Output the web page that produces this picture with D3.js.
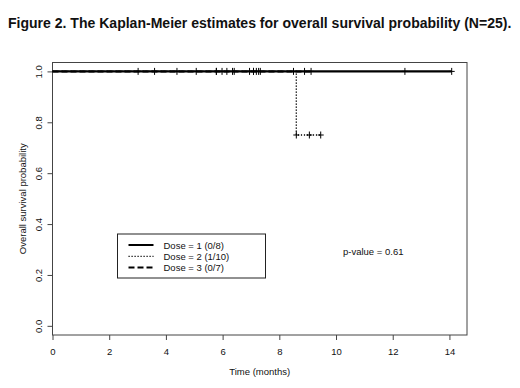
<!DOCTYPE html>
<html>
<head>
<meta charset="utf-8">
<script src="https://cdn.jsdelivr.net/npm/d3@7"></script>
<style>
  body { margin: 0; background: #fff; }
  text { font-family: Arial, "Liberation Sans", sans-serif; fill: #111; }
</style>
</head>
<body>
<div id="km-chart"></div>
<script>
// Follow-up times (months) and status (1 = death, 0 = censored), per dose group
const dose1Time   = [3.02, 4.39, 5.78, 6.41, 7.09, 8.89, 12.43, 14.08];
const dose1Status = [0, 0, 0, 0, 0, 0, 0, 0];
const dose2Time   = [3.60, 5.07, 5.98, 6.95, 7.33, 8.50, 8.60, 8.60, 9.06, 9.46];
const dose2Status = [0, 0, 0, 0, 0, 0, 1, 0, 0, 0];
const dose3Time   = [5.78, 6.15, 6.35, 7.09, 7.19, 7.27, 9.12];
const dose3Status = [0, 0, 0, 0, 0, 0, 0];

const legendLabels = ["Dose = 1 (0/8)", "Dose = 2 (1/10)", "Dose = 3 (0/7)"];
const xTicks = [0, 2, 4, 6, 8, 10, 12, 14];
const yTicks = [0, 0.2, 0.4, 0.6, 0.8, 1.0];
const pValueText = "p-value = 0.61";
const titleText = "Figure 2. The Kaplan-Meier estimates for overall survival probability (N=25).";

// Kaplan-Meier product-limit estimate: step points + censor marks
function kaplanMeier(times, status) {
    const rows = times.map((t, i) => ({t: t, d: status[i]})).sort((a, b) => a.t - b.t);
    const uniq = Array.from(new Set(rows.map(r => r.t)));
    let atRisk = rows.length, s = 1;
    const steps = [{t: 0, s: 1}], marks = [];
    uniq.forEach(t => {
        const here = rows.filter(r => r.t === t);
        const deaths = here.filter(r => r.d === 1).length;
        if (deaths > 0) { s *= (1 - deaths / atRisk); steps.push({t: t, s: s}); }
        here.filter(r => r.d === 0).forEach(() => marks.push({t: t, s: s}));
        atRisk -= here.length;
    });
    steps.push({t: uniq[uniq.length - 1], s: s});
    return {steps, marks};
}

const groups = [
    {km: kaplanMeier(dose3Time, dose3Status), dash: "6,3", width: 2},
    {km: kaplanMeier(dose2Time, dose2Status), dash: "1.2,1.8", width: 1.4},
    {km: kaplanMeier(dose1Time, dose1Status), dash: null, width: 2.4}
];
const legendStyles = [
    {dash: null, width: 2},
    {dash: "1.2,1.8", width: 1.2},
    {dash: "6,3", width: 2}
];

const W = 520, H = 388;
const margin = {top: 62.5, right: 53, bottom: 53, left: 52.5},
      width = W - margin.left - margin.right,
      height = H - margin.top - margin.bottom;

const x = d3.scaleLinear().domain([0, 14.62]).range([0, width]);
const y = d3.scaleLinear().domain([-0.036, 1.035]).range([height, 0]);

const svg = d3.select("#km-chart").append("svg")
    .attr("width", W)
    .attr("height", H);

// Title, scaled to span the measured width
const title = svg.append("text")
    .attr("x", 8).attr("y", 28)
    .attr("font-size", 14).attr("font-weight", "bold")
    .text(titleText);
const tw = title.node().getComputedTextLength();
title.attr("font-size", 14 * 504 / tw);

const g = svg.append("g")
    .attr("transform", `translate(${margin.left},${margin.top})`);

// Plot box
g.append("rect")
    .attr("width", width).attr("height", height)
    .attr("fill", "none").attr("stroke", "#444").attr("stroke-width", 1);

// x axis
const xAxis = g.append("g")
    .attr("transform", `translate(0,${height})`)
    .call(d3.axisBottom(x).tickValues(xTicks).tickSize(5).tickPadding(8).tickSizeOuter(0));
xAxis.select(".domain").remove();
xAxis.selectAll("line").attr("stroke", "#444");
xAxis.selectAll("text").attr("font-size", 9.5).attr("fill", "#111").style("font-family", "Arial, 'Liberation Sans', sans-serif");

// y axis with rotated labels
const yAxis = g.append("g")
    .call(d3.axisLeft(y).tickValues(yTicks).tickFormat(d3.format(".1f")).tickSize(5).tickSizeOuter(0));
yAxis.select(".domain").remove();
yAxis.selectAll("line").attr("stroke", "#444");
yAxis.selectAll("text")
    .attr("x", null).attr("dy", null)
    .attr("transform", "translate(-14.5,0) rotate(-90)")
    .attr("text-anchor", "middle")
    .attr("dominant-baseline", "central")
    .attr("font-size", 9.5).attr("fill", "#111")
    .style("font-family", "Arial, 'Liberation Sans', sans-serif");

// Axis titles
svg.append("text")
    .attr("x", margin.left + width / 2).attr("y", 375)
    .attr("text-anchor", "middle").attr("font-size", 9.5)
    .text("Time (months)");
svg.append("text")
    .attr("transform", `translate(22,${margin.top + height / 2}) rotate(-90)`)
    .attr("text-anchor", "middle").attr("dominant-baseline", "central")
    .attr("font-size", 9.5)
    .text("Overall survival probability");

// Survival curves
const line = d3.line().x(d => x(d.t)).y(d => y(d.s)).curve(d3.curveStepAfter);
groups.forEach(grp => {
    g.append("path")
        .datum(grp.km.steps)
        .attr("d", line)
        .attr("fill", "none")
        .attr("stroke", "#000")
        .attr("stroke-width", grp.width)
        .attr("stroke-dasharray", grp.dash);
    g.selectAll(null)
        .data(grp.km.marks)
        .enter().append("path")
        .attr("d", d => `M${x(d.t) - 3},${y(d.s)}h6M${x(d.t)},${y(d.s) - 3.5}v7`)
        .attr("stroke", "#000")
        .attr("stroke-width", 1);
});

// Legend
const lx = 117.5 - margin.left, ly = 234 - margin.top;
const legend = g.append("g").attr("transform", `translate(${lx},${ly})`);
legend.append("rect")
    .attr("width", 148).attr("height", 44)
    .attr("fill", "#fff").attr("stroke", "#222").attr("stroke-width", 1);
legendLabels.forEach((lab, i) => {
    const yy = 11 + i * 11.3;
    legend.append("line")
        .attr("x1", 11).attr("x2", 36).attr("y1", yy).attr("y2", yy)
        .attr("stroke", "#000")
        .attr("stroke-width", legendStyles[i].width)
        .attr("stroke-dasharray", legendStyles[i].dash);
    legend.append("text")
        .attr("x", 46).attr("y", yy)
        .attr("dominant-baseline", "central")
        .attr("font-size", 9.5)
        .text(lab);
});

// p-value annotation
svg.append("text")
    .attr("x", 343).attr("y", 251)
    .attr("dominant-baseline", "central")
    .attr("font-size", 9.5)
    .text(pValueText);
</script>
</body>
</html>
